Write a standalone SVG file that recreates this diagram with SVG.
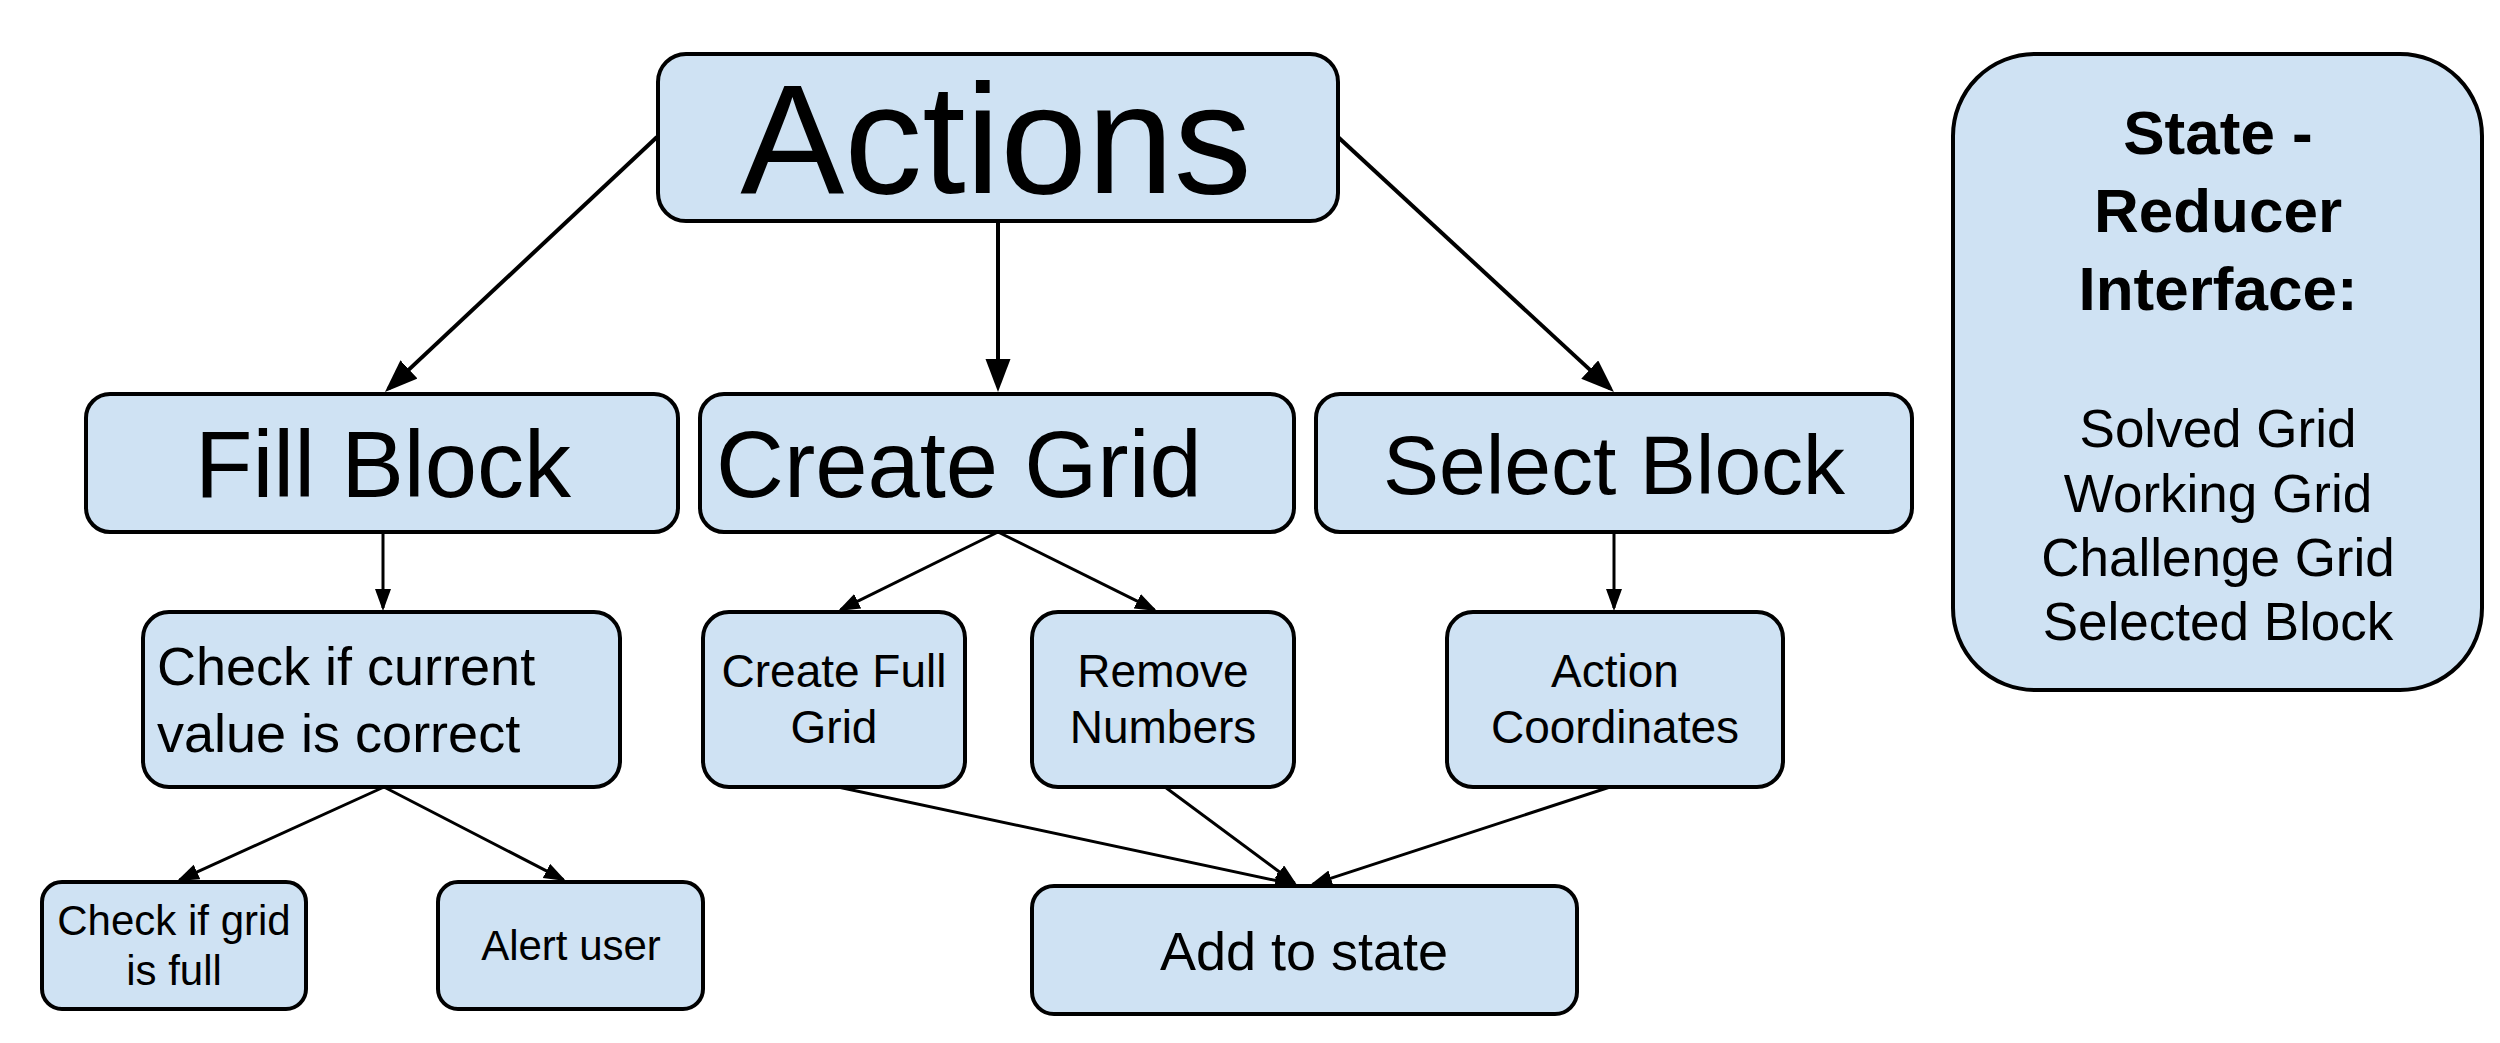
<svg xmlns="http://www.w3.org/2000/svg" width="2500" height="1043" viewBox="0 0 2500 1043">
<style>
.box{fill:#cfe2f3;stroke:#000;stroke-width:4}
.t{font-family:"Liberation Sans",Arial,sans-serif;fill:#000}
.c{text-anchor:middle}
.b{font-weight:bold}
.big{stroke:#000;stroke-width:4;fill:none}
.sm{stroke:#000;stroke-width:3;fill:none}
</style>
<defs>
<marker id="ab" markerUnits="userSpaceOnUse" markerWidth="34" markerHeight="26" refX="28" refY="12.5" orient="auto"><path d="M0,0 L33,12.5 L0,25 z" fill="#000"/></marker>
<marker id="as" markerUnits="userSpaceOnUse" markerWidth="23" markerHeight="17" refX="19" refY="8" orient="auto"><path d="M0,0 L22,8 L0,16 z" fill="#000"/></marker>
</defs>
<rect width="2500" height="1043" fill="#fff"/>
<g id="connectors">
<line class="big" x1="657" y1="137" x2="388.6" y2="388.6" marker-end="url(#ab)"/>
<line class="big" x1="998" y1="221" x2="998" y2="387" marker-end="url(#ab)"/>
<line class="big" x1="1338" y1="137" x2="1610.3" y2="388.6" marker-end="url(#ab)"/>
<line class="sm" x1="383" y1="532" x2="383" y2="608" marker-end="url(#as)"/>
<line class="sm" x1="384" y1="787" x2="179.7" y2="879.8" marker-end="url(#as)"/>
<line class="sm" x1="384" y1="787" x2="563.3" y2="879.6" marker-end="url(#as)"/>
<line class="sm" x1="998" y1="532" x2="840.7" y2="609.7" marker-end="url(#as)"/>
<line class="sm" x1="998" y1="532" x2="1154.3" y2="609.7" marker-end="url(#as)"/>
<line class="sm" x1="1614" y1="532" x2="1614" y2="608" marker-end="url(#as)"/>
<line class="sm" x1="838" y1="787" x2="1294.1" y2="884.4" marker-end="url(#as)"/>
<line class="sm" x1="1165" y1="787" x2="1294.6" y2="883.2" marker-end="url(#as)"/>
<line class="sm" x1="1610" y1="787" x2="1312.9" y2="884.1" marker-end="url(#as)"/>
</g>
<g id="actions">
<rect class="box" x="658" y="54" width="680" height="167" rx="28"/>
<text class="t c" x="996" y="193" font-size="156">Actions</text>
</g>
<g id="fill-block">
<rect class="box" x="86" y="394" width="592" height="138" rx="24"/>
<text class="t c" x="383" y="497" font-size="94">Fill Block</text>
</g>
<g id="create-grid">
<rect class="box" x="700" y="394" width="594" height="138" rx="24"/>
<text class="t" x="716" y="497" font-size="94">Create Grid</text>
</g>
<g id="select-block">
<rect class="box" x="1316" y="394" width="596" height="138" rx="24"/>
<text class="t c" x="1614" y="494" font-size="84">Select Block</text>
</g>
<g id="check-current">
<rect class="box" x="143" y="612" width="477" height="175" rx="26"/>
<text class="t" x="157" y="685" font-size="54">Check if current</text>
<text class="t" x="157" y="752" font-size="54">value is correct</text>
</g>
<g id="create-full-grid">
<rect class="box" x="703" y="612" width="262" height="175" rx="26"/>
<text class="t c" x="834" y="687" font-size="46">Create Full</text>
<text class="t c" x="834" y="743" font-size="46">Grid</text>
</g>
<g id="remove-numbers">
<rect class="box" x="1032" y="612" width="262" height="175" rx="26"/>
<text class="t c" x="1163" y="687" font-size="46">Remove</text>
<text class="t c" x="1163" y="743" font-size="46">Numbers</text>
</g>
<g id="action-coordinates">
<rect class="box" x="1447" y="612" width="336" height="175" rx="26"/>
<text class="t c" x="1615" y="687" font-size="46">Action</text>
<text class="t c" x="1615" y="743" font-size="46">Coordinates</text>
</g>
<g id="check-grid-full">
<rect class="box" x="42" y="882" width="264" height="127" rx="20"/>
<text class="t c" x="174" y="935" font-size="42">Check if grid</text>
<text class="t c" x="174" y="985" font-size="42">is full</text>
</g>
<g id="alert-user">
<rect class="box" x="438" y="882" width="265" height="127" rx="20"/>
<text class="t c" x="571" y="960" font-size="42">Alert user</text>
</g>
<g id="add-to-state">
<rect class="box" x="1032" y="886" width="545" height="128" rx="22"/>
<text class="t c" x="1304" y="970" font-size="54">Add to state</text>
</g>
<g id="state-interface">
<rect class="box" x="1953" y="54" width="529" height="636" rx="82"/>
<text class="t c b" x="2218" y="154" font-size="62">State -</text>
<text class="t c b" x="2218" y="232" font-size="62">Reducer</text>
<text class="t c b" x="2218" y="310" font-size="62">Interface:</text>
<text class="t c" x="2218" y="447" font-size="53">Solved Grid</text>
<text class="t c" x="2218" y="512" font-size="53">Working Grid</text>
<text class="t c" x="2218" y="576" font-size="53">Challenge Grid</text>
<text class="t c" x="2218" y="640" font-size="53">Selected Block</text>
</g>
</svg>
